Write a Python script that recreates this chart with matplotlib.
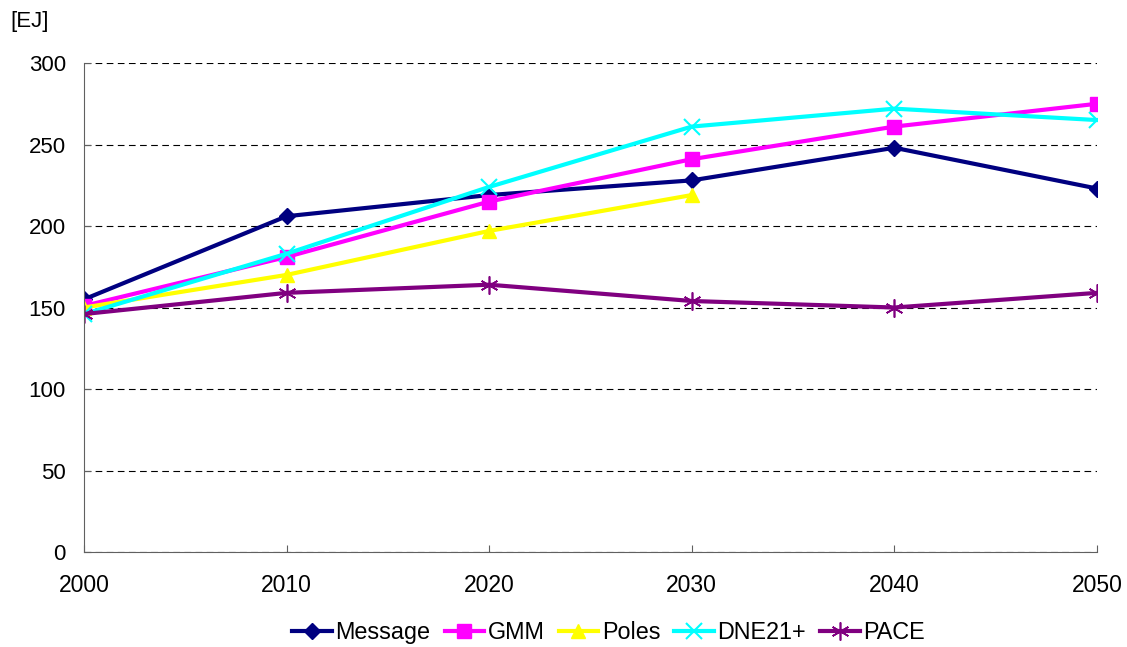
from matplotlib import pyplot as plt

years = [2000, 2010, 2020, 2030, 2040, 2050]
message = [155, 206, 219, 228, 248, 223]
gmm = [151, 181, 215, 241, 261, 275]
poles = [150, 170, 197, 219]
dne21 = [146, 183, 224, 261, 272, 265]
pace = [146, 159, 164, 154, 150, 159]

plt.rcParams['font.family'] = ['Liberation Sans', 'DejaVu Sans']

fig = plt.figure(figsize=(11.27, 6.47), dpi=100)
ax = fig.add_axes([0.0745, 0.1468, 0.8989, 0.7558])

# series
ax.plot(years, message, color='#000080', lw=3, marker='D', ms=8, label='Message')
ax.plot(years, gmm, color='#ff00ff', lw=3, marker='s', ms=10, label='GMM')
ax.plot(years[:len(poles)], poles, color='#ffff00', lw=3, marker='^', ms=10, label='Poles')
ax.plot(years, dne21, color='#00ffff', lw=3, marker='x', ms=11, mew=1.5, label='DNE21+')
ax.plot(years, pace, color='#800080', lw=3, marker=(6, 2, 0), ms=13, mew=1.2, label='PACE')

ax.set_xlim(2000, 2050)
ax.set_ylim(0, 300)
ax.set_xticks(years)
ax.set_yticks(range(0, 301, 50))
ax.yaxis.grid(True, color='black', ls=(0, (6, 4)), lw=0.8)
ax.set_axisbelow(True)
for s in ['top', 'right']:
    ax.spines[s].set_visible(False)
ax.spines['left'].set_color('#606060')
ax.spines['bottom'].set_color('#606060')
ax.tick_params(axis='x', labelsize=16.5, direction='in', length=5, color='#606060', pad=16)
ax.tick_params(axis='y', labelsize=16, direction='in', length=5, color='#606060', pad=13)

fig.text(0.009, 0.958, '[EJ]', fontsize=16)

ax.legend(loc='center', bbox_to_anchor=(0.518, -0.165), ncol=5, frameon=False,
          fontsize=16.8, handlelength=1.7, handletextpad=0.15, columnspacing=0.6)

fig.savefig('out.png', dpi=100)
